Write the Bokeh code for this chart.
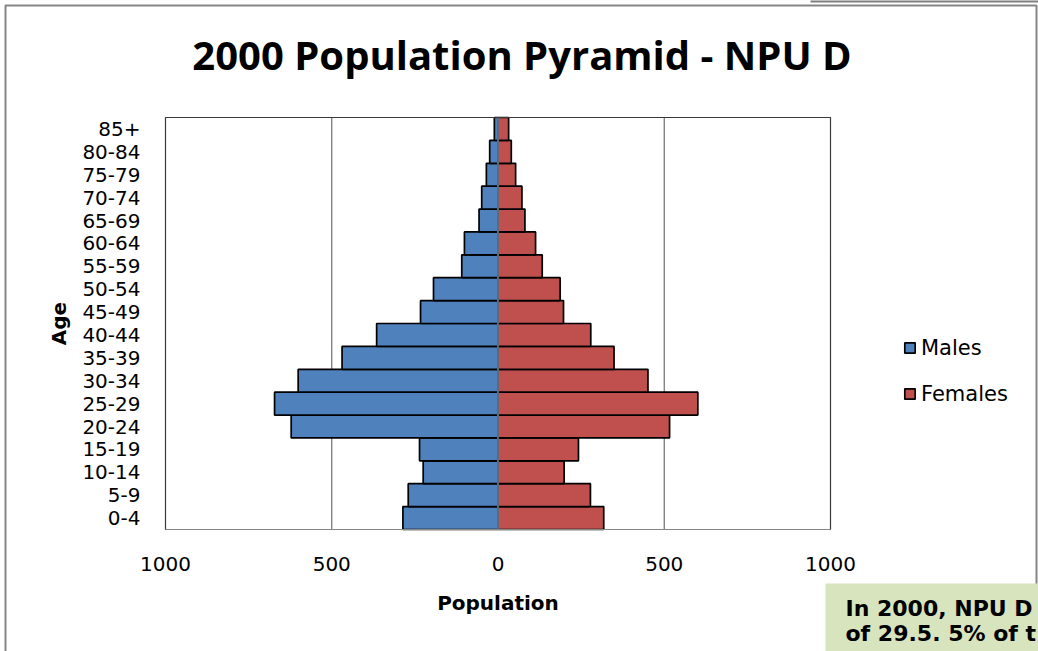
from bokeh.plotting import figure
from bokeh.models import (ColumnDataSource, Range1d, FixedTicker, LinearAxis, Label,
                          Legend, LegendItem, BoxAnnotation)
from bokeh.embed import file_html
from bokeh.resources import INLINE

# ---- data ----
ages = ["0-4", "5-9", "10-14", "15-19", "20-24", "25-29", "30-34", "35-39", "40-44",
        "45-49", "50-54", "55-59", "60-64", "65-69", "70-74", "75-79", "80-84", "85+"]
males = [286, 270, 225, 236, 622, 672, 601, 469, 365, 233, 194, 109, 101, 57, 49, 35, 25, 11]
females = [318, 278, 199, 242, 516, 601, 451, 349, 279, 197, 187, 133, 113, 81, 72, 53, 40, 32]
x_ticks = [-1000, -500, 0, 500, 1000]
x_tick_labels = ["1000", "500", "0", "500", "1000"]
title_text = "2000 Population Pyramid - NPU D"
note_lines = ["In 2000, NPU D", "of 29.5. 5% of t"]

# ---- geometry (pixels) ----
W, H = 1038, 651
PL, PR, PT, PB = 165, 830, 117, 529          # plot-area edges on the canvas
XMIN, XMAX = x_ticks[0], x_ticks[-1]
n = len(ages)
ux = (XMAX - XMIN) / (PR - PL)
uy = n / (PB - PT)

ypos = [i + 0.5 for i in range(n)]
src = ColumnDataSource(dict(y=ypos, mleft=[-v for v in males], zero=[0] * n, fright=females))

p = figure(width=W, height=H, output_backend="svg", toolbar_location=None,
           x_range=Range1d(XMIN - PL * ux, XMAX + (W - PR) * ux),
           y_range=Range1d(-(H - PB) * uy, n + PT * uy),
           x_axis_location=None, y_axis_location=None, min_border=0)
p.background_fill_color = "white"
p.border_fill_color = "white"
p.outline_line_color = None
for g in p.grid:
    g.visible = False

# vertical gridlines inside the plot area
grid_x = [t for t in x_ticks if XMIN < t < XMAX]
p.segment(x0=grid_x, y0=[0] * len(grid_x), x1=grid_x, y1=[n] * len(grid_x),
          line_color="#6e6e6e", line_width=1.2)

rm = p.hbar(y="y", left="mleft", right="zero", height=1.0, source=src,
            fill_color="#4f81bd", line_color="black", line_width=1.7)
rf = p.hbar(y="y", left="zero", right="fright", height=1.0, source=src,
            fill_color="#c0504d", line_color="black", line_width=1.7)

# vertical axis line at zero, drawn over the bars
p.segment(x0=[0], y0=[0], x1=[0], y1=[n], line_color="#8194ab", line_width=1.4)
# plot-area border
p.quad(left=[XMIN], right=[XMAX], bottom=[0], top=[n], fill_color=None,
       line_color="#3a3a3a", line_width=1.2)

# axes
xaxis = LinearAxis(fixed_location=0, bounds=(XMIN, XMAX), ticker=FixedTicker(ticks=x_ticks),
                   major_label_overrides={t: l for t, l in zip(x_ticks, x_tick_labels)},
                   axis_label="Population")
yaxis = LinearAxis(fixed_location=XMIN, bounds=(0, n), ticker=FixedTicker(ticks=ypos),
                   major_label_overrides={y: a for y, a in zip(ypos, ages)},
                   axis_label="Age")
for ax in (xaxis, yaxis):
    ax.major_tick_line_color = None
    ax.minor_tick_line_color = None
    ax.major_label_text_font = "DejaVu Sans"
    ax.major_label_text_font_size = "20px"
    ax.major_label_text_color = "black"
    ax.axis_label_text_font = "DejaVu Sans"
    ax.axis_label_text_font_style = "bold"
    ax.axis_label_text_font_size = "20px"
    ax.axis_label_text_color = "black"
xaxis.axis_line_color = "#868686"
xaxis.axis_line_width = 1.2
xaxis.major_label_standoff = 21
xaxis.axis_label_standoff = 17
yaxis.axis_line_color = None
yaxis.major_label_standoff = 19
yaxis.axis_label_standoff = 8
p.add_layout(xaxis, "below")
p.add_layout(yaxis, "left")

# legend
legend = Legend(items=[LegendItem(label="Males", renderers=[rm]),
                       LegendItem(label="Females", renderers=[rf])],
                location=(903, H - 406), orientation="vertical",
                glyph_width=13, glyph_height=13, label_standoff=5, label_height=25,
                spacing=21, padding=0, margin=0,
                label_text_font="DejaVu Sans", label_text_font_size="21px",
                label_text_color="black",
                border_line_color=None, background_fill_alpha=0)
p.add_layout(legend)

# title
p.add_layout(Label(x=521.5, y=H - 54, x_units="screen", y_units="screen", text=title_text,
                   text_align="center", text_baseline="alphabetic",
                   text_font="Open Sans", text_font_style="bold", text_font_size="40px",
                   text_color="black"))

# outer chart border and the strip above it
p.add_layout(BoxAnnotation(left=5, right=1036, top=H - 5, bottom=-20,
                           left_units="screen", right_units="screen",
                           top_units="screen", bottom_units="screen",
                           fill_alpha=0, line_color="#868686", line_alpha=1, line_width=2))
p.add_layout(BoxAnnotation(left=810, right=W + 10, top=H + 5, bottom=H - 2,
                           left_units="screen", right_units="screen",
                           top_units="screen", bottom_units="screen",
                           fill_color="#7f7f7f", fill_alpha=1, line_color=None))

# note box
p.add_layout(BoxAnnotation(left=825, right=W + 20, top=H - 583, bottom=-20,
                           left_units="screen", right_units="screen",
                           top_units="screen", bottom_units="screen",
                           fill_color="#d7e4bd", fill_alpha=1, line_color=None))
for i, line in enumerate(note_lines):
    p.add_layout(Label(x=845, y=H - 608 - 25 * i, x_units="screen", y_units="screen", text=line,
                       text_align="left", text_baseline="alphabetic",
                       text_font="DejaVu Sans", text_font_style="bold",
                       text_font_size="22px", text_color="black"))

open("out.html", "w").write(file_html(p, INLINE))
